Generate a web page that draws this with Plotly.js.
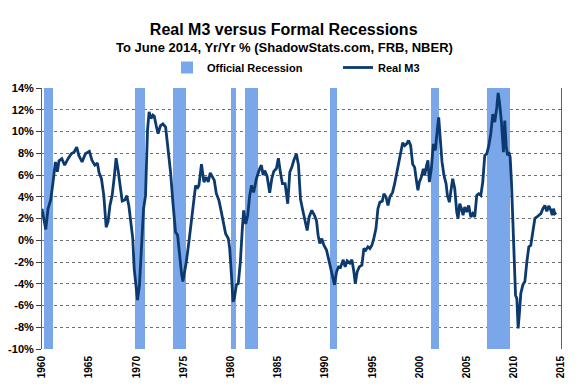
<!DOCTYPE html>
<html><head><meta charset="utf-8">
<script src="https://cdn.plot.ly/plotly-3.0.1.min.js"></script>
<style>html,body{margin:0;padding:0;background:#fff}#chart{width:579px;height:388px}</style>
</head><body><div id="chart"></div>
<script>
// Real M3 year-over-year growth (%) (decimal years)
const years = [1960.0,1960.2,1960.4,1960.64,1960.92,1961.17,1961.42,1961.63,1961.8,1962.1,1962.4,1962.76,1963.1,1963.4,1963.68,1963.9,1964.25,1964.6,1965.02,1965.3,1965.6,1965.87,1966.05,1966.3,1966.55,1966.8,1967.0,1967.2,1967.43,1967.64,1967.85,1968.07,1968.28,1968.5,1968.78,1968.99,1969.2,1969.4,1969.62,1969.77,1969.98,1970.12,1970.33,1970.55,1970.76,1970.97,1971.04,1971.18,1971.35,1971.55,1971.75,1971.9,1972.1,1972.3,1972.56,1972.81,1973.1,1973.38,1973.62,1973.87,1974.15,1974.37,1974.58,1974.79,1974.93,1975.07,1975.29,1975.57,1975.85,1976.1,1976.28,1976.45,1976.63,1976.9,1977.16,1977.41,1977.62,1977.83,1978.05,1978.26,1978.47,1978.75,1978.97,1979.18,1979.46,1979.75,1979.89,1980.1,1980.24,1980.38,1980.6,1980.8,1981.02,1981.23,1981.37,1981.59,1981.8,1982.01,1982.2,1982.43,1982.72,1983.07,1983.25,1983.43,1983.6,1983.85,1984.13,1984.35,1984.56,1984.84,1985.05,1985.27,1985.48,1985.76,1986.04,1986.26,1986.47,1986.68,1986.96,1987.18,1987.39,1987.6,1987.88,1988.1,1988.31,1988.59,1988.87,1989.09,1989.26,1989.44,1989.65,1989.87,1990.15,1990.36,1990.57,1990.79,1991.0,1991.21,1991.42,1991.63,1991.92,1992.13,1992.34,1992.63,1992.84,1993.05,1993.2,1993.4,1993.62,1993.9,1994.11,1994.32,1994.54,1994.75,1994.96,1995.17,1995.39,1995.6,1995.81,1996.06,1996.23,1996.45,1996.66,1996.87,1997.15,1997.37,1997.58,1997.79,1998.0,1998.22,1998.43,1998.64,1998.85,1999.07,1999.28,1999.49,1999.7,1999.84,1999.99,2000.2,2000.41,2000.55,2000.76,2000.9,2001.05,2001.26,2001.47,2001.68,2001.9,2002.04,2002.18,2002.39,2002.6,2002.82,2002.96,2003.17,2003.31,2003.52,2003.74,2003.95,2004.09,2004.27,2004.45,2004.62,2004.8,2005.01,2005.22,2005.44,2005.65,2005.86,2006.07,2006.28,2006.5,2006.71,2006.92,2007.13,2007.35,2007.56,2007.77,2007.98,2008.2,2008.34,2008.48,2008.69,2008.9,2009.04,2009.19,2009.33,2009.47,2009.61,2009.75,2009.89,2010.04,2010.18,2010.32,2010.46,2010.6,2010.74,2010.96,2011.17,2011.38,2011.59,2011.8,2012.02,2012.23,2012.44,2012.65,2012.87,2013.08,2013.29,2013.5,2013.7,2013.93,2014.07,2014.2,2014.35,2014.5];
const realM3 = [2.9,1.8,1.0,2.9,3.7,5.35,7.2,6.3,7.3,7.5,6.9,7.5,7.95,8.1,8.56,7.8,7.2,7.95,8.17,7.34,6.9,7.1,6.2,5.66,4.1,1.2,1.7,3.2,4.1,5.66,7.55,6.4,5.05,3.6,3.7,4.1,3.2,1.7,0.15,-2.6,-4.1,-5.5,-4.1,-0.15,2.9,4.1,7.0,10.1,11.8,11.2,11.5,11.4,10.55,9.8,10.55,10.7,10.4,8.3,6.3,3.5,0.76,0.46,-1.7,-3.06,-3.8,-3.2,-2.0,-0.15,2.1,4.1,5.05,4.74,5.05,7.0,5.35,5.8,5.35,6.2,5.8,5.5,4.3,3.67,2.75,1.7,0.6,0.15,-0.76,-3.5,-5.66,-5.35,-4.1,-4.0,-2.0,1.07,2.75,1.5,2.3,4.1,5.05,4.4,5.66,6.6,6.9,6.0,6.4,5.9,4.37,5.66,6.33,6.6,7.55,6.2,5.2,5.2,3.36,6.27,6.7,7.34,7.95,6.9,3.8,2.9,1.7,0.9,2.14,2.75,2.3,1.8,0.46,-0.3,0.15,-0.46,-0.9,-1.7,-2.3,-3.36,-4.1,-2.9,-2.45,-2.5,-1.8,-2.45,-1.9,-2.1,-1.8,-2.9,-4.0,-2.9,-2.45,-2.3,-0.76,-0.9,-0.6,-0.76,-0.46,0.2,1.07,2.9,3.5,3.58,4.28,4.0,3.2,4.0,4.4,5.2,6.2,7.0,7.95,8.96,8.7,8.87,9.17,8.7,7.0,6.7,5.35,4.6,5.35,5.8,6.57,5.96,6.9,7.34,5.35,6.57,8.87,8.26,10.24,11.3,9.63,7.2,5.96,5.2,4.13,3.5,4.4,5.66,4.74,2.6,2.0,3.36,2.9,2.3,3.06,2.6,3.2,2.14,2.45,2.14,4.13,4.28,4.13,5.35,7.8,7.95,8.7,9.8,11.6,10.86,12.23,13.55,12.7,10.86,8.1,11.0,8.7,7.8,8.1,7.65,5.35,2.3,-1.07,-5.05,-5.35,-8.1,-6.6,-4.9,-4.1,-3.8,-2.0,-0.6,-0.46,0.76,2.0,2.14,2.3,2.45,2.9,3.2,2.66,3.15,2.75,2.3,2.9,2.45,2.55];

// Official recession periods as drawn (decimal years)
const recStart = [1960.21,1969.84,1973.91,1979.99,1981.48,1990.57,2001.26,2007.13];
const recEnd   = [1961.14,1970.90,1975.25,1980.59,1982.93,1991.28,2002.04,2009.58];

const xTickVals = [1960,1965,1970,1975,1980,1985,1990,1995,2000,2005,2010,2015];
const yTickVals = [-10,-8,-6,-4,-2,0,2,4,6,8,10,12,14];
const yTickText = yTickVals.map(v => v + '%');

const FONT = 'Liberation Sans, Arial, sans-serif';
const yMin = -10, yMax = 14;

const recTrace = {
  type: 'bar',
  name: 'Official Recession',
  x: recStart.map((s, i) => (s + recEnd[i]) / 2),
  width: recStart.map((s, i) => recEnd[i] - s),
  y: recStart.map(() => yMax - yMin),
  base: recStart.map(() => yMin),
  marker: {color: '#7aa7ea', line: {width: 0}},
  hoverinfo: 'skip'
};
const lineTrace = {
  type: 'scatter', mode: 'lines', name: 'Real M3',
  x: years, y: realM3,
  line: {color: '#0c3a6e', width: 2.8}
};

const layout = {
  width: 579, height: 388,
  margin: {l: 42, r: 18, t: 88, b: 39},
  paper_bgcolor: '#ffffff', plot_bgcolor: '#ffffff',
  font: {family: FONT, color: '#000', weight: 'bold'},
  title: {text: 'Real M3 versus Formal Recessions', x: 0.49, xanchor: 'center',
          y: 1 - 29/388, yref: 'container', yanchor: 'middle',
          font: {family: FONT, size: 16, weight: 'bold', color: '#000'}},
  annotations: [{text: 'To June 2014, Yr/Yr % (ShadowStats.com, FRB, NBER)', xref: 'paper', yref: 'paper',
                 x: (284 - 42) / 519, y: (349 - 47) / 261, xanchor: 'center', yanchor: 'middle', showarrow: false,
                 font: {family: FONT, size: 13, weight: 'bold', color: '#000'}}],
  showlegend: true,
  legend: {orientation: 'h', xref: 'container', yref: 'container', x: 167 / 579, xanchor: 'left',
           y: 1 - 67.5 / 388, yanchor: 'middle', entrywidth: 126, entrywidthmode: 'pixels',
           font: {family: FONT, size: 11, weight: 'bold', color: '#000'}, bgcolor: 'rgba(0,0,0,0)'},
  bargap: 0,
  xaxis: {range: [1960, 2015], tickvals: xTickVals, tickangle: -90, showgrid: false, zeroline: false,
          showline: false, ticks: '', ticklabelstandoff: 4,
          tickfont: {family: FONT, size: 10, weight: 'bold', color: '#000'}},
  xaxis2: {overlaying: 'x', anchor: 'free', position: (0 - yMin) / (yMax - yMin), range: [1960, 2015],
           showline: true, linecolor: '#000', linewidth: 1.5, ticks: 'outside', ticklen: 3, tickwidth: 1,
           tickcolor: '#000', tick0: 1960, dtick: 1, showticklabels: false, showgrid: false, zeroline: false,
           side: 'bottom'},
  yaxis: {range: [yMin, yMax], tickvals: yTickVals, ticktext: yTickText, showgrid: true,
          gridcolor: '#707070', griddash: 'dot', gridwidth: 1, zeroline: false,
          showline: true, linecolor: '#606060', linewidth: 1, mirror: true,
          ticks: 'outside', ticklen: 5, tickcolor: '#404040',
          tickfont: {family: FONT, size: 11, weight: 'bold', color: '#000'}}
};

Plotly.newPlot('chart', [recTrace, lineTrace], layout, {displayModeBar: false, staticPlot: true});
</script>
</body></html>
